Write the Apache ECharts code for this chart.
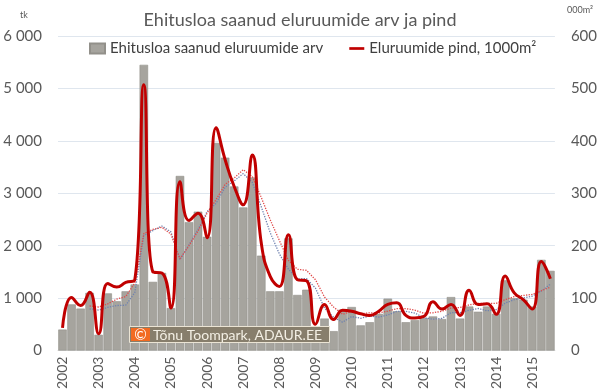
<!DOCTYPE html>
<html>
<head>
<meta charset="utf-8">
<script src="https://cdn.jsdelivr.net/npm/echarts@6/dist/echarts.min.js"></script>
<style>
html,body{margin:0;padding:0;background:#fff;}
#c{width:600px;height:392px;}
</style>
</head>
<body>
<div id="c"></div>
<script>
// Years shown as tick labels (first quarter of each year)
const years = ['2002','2003','2004','2005','2006','2007','2008','2009','2010','2011','2012','2013','2014','2015'];
const quarters = ['I','II','III','IV'];
// Number of dwellings with building permit (tk), quarterly 2002 I - 2015 III
const dwellings = [400,880,800,1100,300,1090,940,1130,1260,5450,1310,1480,810,3330,2450,2650,2170,3960,3680,3130,2730,3300,1810,1130,1130,2140,1060,1160,400,610,370,780,830,480,540,700,990,750,540,580,620,650,600,1020,610,840,740,840,700,1340,1000,970,840,1730,1520];
// Floor area of dwellings, 1000 m2
const area = [43,101,86,111,32,128,121,130,135,507,150,148,81,322,248,262,215,425,364,313,278,373,205,141,122,221,135,133,50,88,59,77,75,70,67,75,88,91,67,62,65,93,79,88,67,115,88,89,69,142,110,97,79,170,137];
// Dotted moving-average lines
const dwellingsTrend = [null,null,null,795,770,823,858,865,1105,2195,2288,2375,2263,1733,2018,2310,2650,2808,3115,3235,3375,3210,2743,2243,1843,1553,1365,1373,1190,808,635,540,648,615,658,638,678,745,745,715,623,598,613,723,720,768,803,758,780,905,970,1003,1038,1135,1265];
const areaTrend = [null,null,null,85,83,89,98,103,129,223,231,235,222,175,200,228,262,288,317,329,345,332,292,249,210,172,155,153,135,102,83,69,75,70,72,72,75,80,80,77,71,72,75,81,82,87,90,90,90,97,103,105,107,114,121];

const categories = [];
for (let i = 0; i < dwellings.length; i++) {
  categories.push(years[Math.floor(i / 4)] + ' ' + quarters[i % 4]);
}

const FONT = 'Lato, "Noto Sans", sans-serif';
const TXT = '#595959';

const chart = echarts.init(document.getElementById('c'), null, {renderer: 'canvas'});
chart.setOption({
  animation: false,
  backgroundColor: '#ffffff',
  title: {
    text: 'Ehitusloa saanud eluruumide arv ja pind',
    left: 'center',
    top: 6,
    textStyle: {fontFamily: FONT, fontSize: 18, fontWeight: 'normal', color: TXT}
  },
  legend: {
    top: 36,
    left: 84,
    itemWidth: 15,
    itemHeight: 10,
    itemGap: 26,
    symbolKeepAspect: true,
    textStyle: {fontFamily: FONT, fontSize: 15, color: '#404040'},
    data: [
      {name: 'Ehitusloa saanud eluruumide arv', icon: 'rect'},
      {name: 'Eluruumide pind, 1000m²', icon: 'path://M0,0H20V3.6H0Z'}
    ]
  },
  grid: {left: 58, right: 43, top: 36, bottom: 41},
  xAxis: {
    type: 'category',
    data: categories,
    boundaryGap: true,
    axisLine: {show: true, lineStyle: {color: '#d9d9d9'}},
    axisTick: {show: false},
    axisLabel: {
      interval: 3,
      rotate: 90,
      margin: 6,
      fontFamily: FONT,
      fontSize: 14,
      color: TXT,
      formatter: v => v.split(' ')[0]
    }
  },
  yAxis: [
    {
      type: 'value', min: 0, max: 6000, interval: 1000,
      axisLine: {show: false}, axisTick: {show: false},
      axisLabel: {
        margin: 16, fontFamily: FONT, fontSize: 15, color: TXT,
        formatter: v => v >= 1000 ? Math.floor(v / 1000) + ' ' + String(v % 1000).padStart(3, '0') : String(v)
      },
      splitLine: {lineStyle: {color: '#dfe6ee', width: 1}}
    },
    {
      type: 'value', min: 0, max: 600, interval: 100,
      axisLine: {show: false}, axisTick: {show: false},
      axisLabel: {margin: 16, fontFamily: FONT, fontSize: 15, color: TXT},
      splitLine: {show: false}
    }
  ],
  series: [
    {
      name: 'Ehitusloa saanud eluruumide arv',
      type: 'bar',
      data: dwellings,
      barCategoryGap: '6%',
      itemStyle: {color: '#a6a49e', borderColor: '#92908a', borderWidth: 0.6}
    },
    {
      name: 'arv trend',
      type: 'line',
      data: dwellingsTrend,
      symbol: 'none',
      lineStyle: {color: '#6f82b0', width: 1.3, type: 'dotted'}
    },
    {
      name: 'pind trend',
      type: 'line',
      yAxisIndex: 1,
      data: areaTrend,
      symbol: 'none',
      lineStyle: {color: '#e04a4a', width: 1.3, type: 'dotted'}
    },
    {
      name: 'Eluruumide pind, 1000m²',
      type: 'line',
      yAxisIndex: 1,
      data: area,
      symbol: 'none',
      smooth: 0.5,
      itemStyle: {color: '#c00000'},
      lineStyle: {color: '#c00000', width: 3}
    }
  ],
  graphic: [
    {type: 'text', x: 20, y: 11, z: 100, style: {text: 'tk', fontFamily: FONT, fontSize: 9, fill: TXT}},
    {type: 'text', x: 567, y: 6, z: 100, style: {text: '000m²', fontFamily: FONT, fontSize: 9, fill: TXT}},
    {type: 'rect', z: 100, shape: {x: 129.5, y: 326.5, width: 200, height: 16}, style: {fill: '#877e6c', stroke: '#ebe4d4', lineWidth: 1}},
    {type: 'rect', z: 101, shape: {x: 131, y: 328, width: 19, height: 13}, style: {fill: '#f26a21'}},
    {type: 'text', z: 102, x: 140.5, y: 335, style: {text: '©', fontFamily: FONT, fontSize: 15, fill: '#ffffff', align: 'center', verticalAlign: 'middle'}},
    {type: 'text', z: 102, x: 153, y: 335.5, style: {text: 'Tõnu Toompark, ADAUR.EE', fontFamily: FONT, fontSize: 14, fill: '#f3efe4', verticalAlign: 'middle'}}
  ]
});
</script>
</body>
</html>
